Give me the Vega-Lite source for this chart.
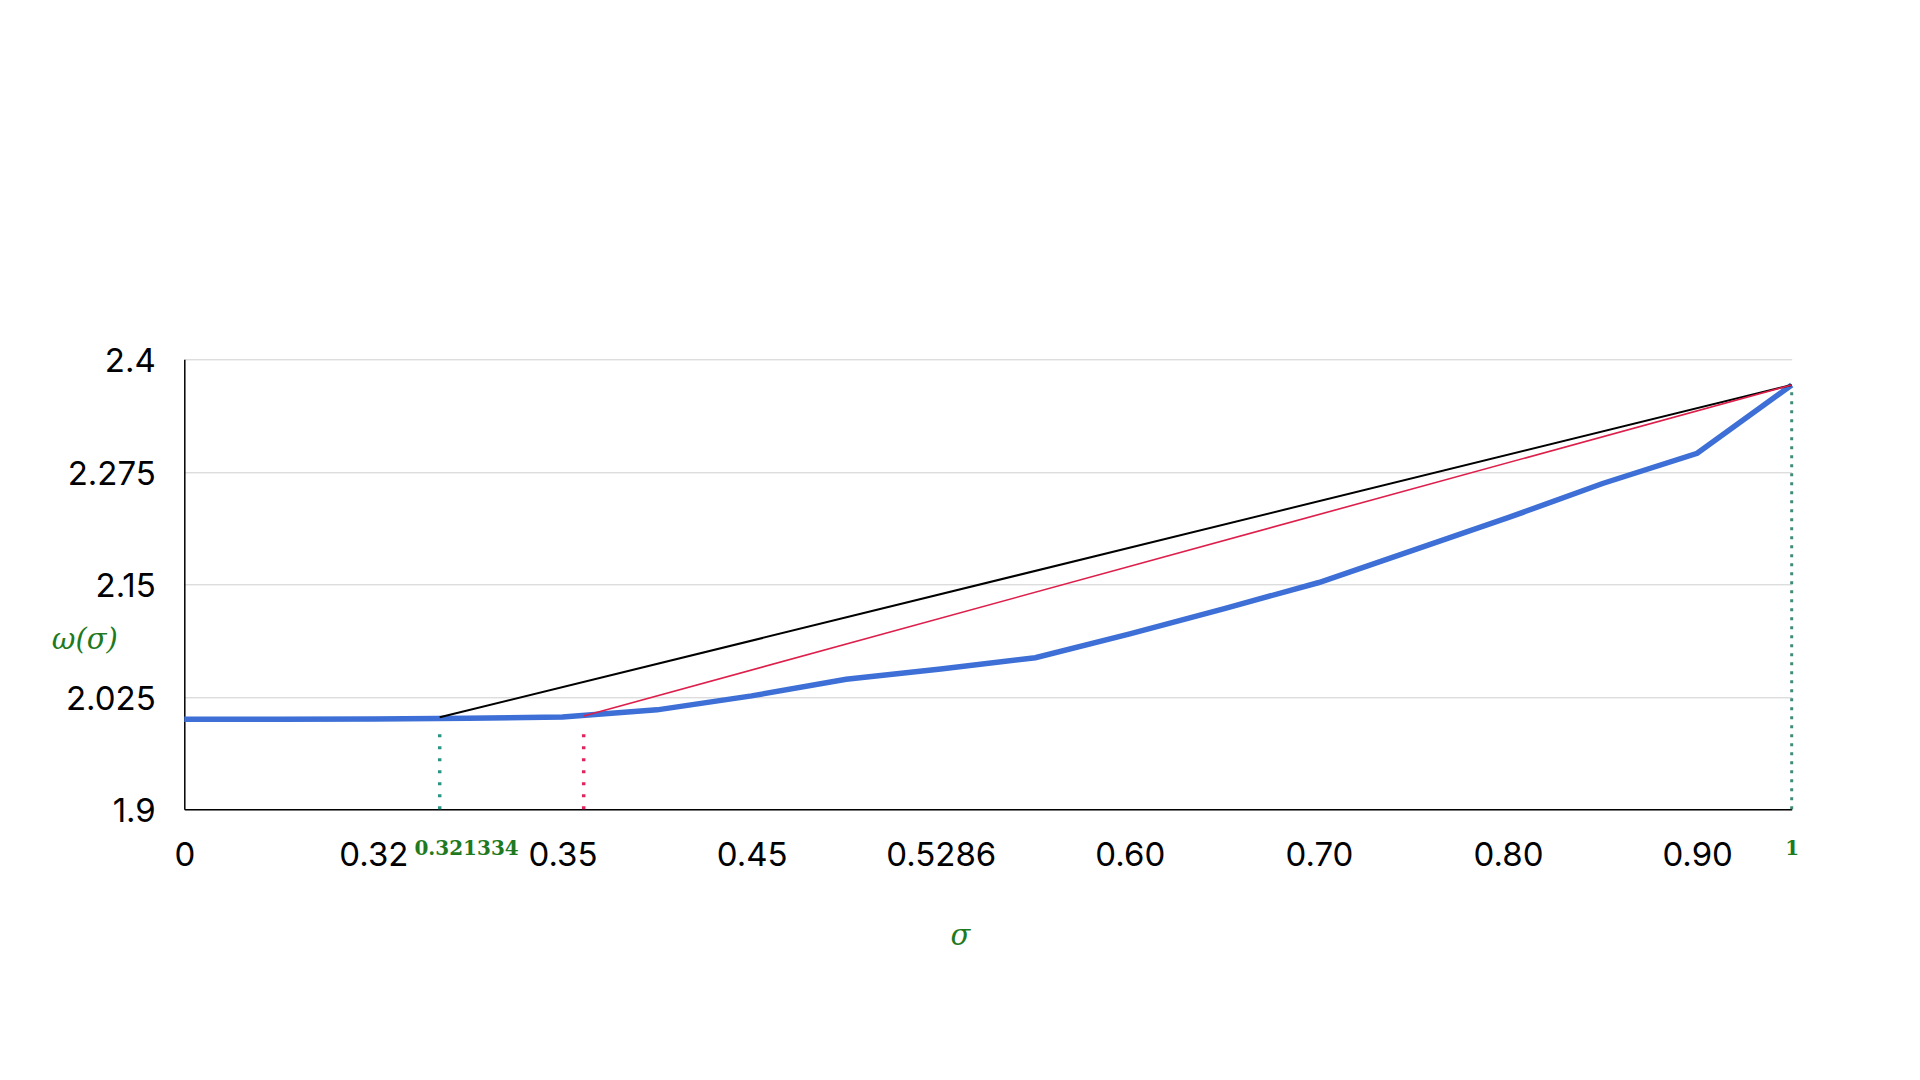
{
  "$schema": "https://vega.github.io/schema/vega-lite/v6.json",
  "width": 1607.4,
  "height": 450,
  "autosize": "none",
  "padding": {"left": 184.3, "top": 359.3, "right": 128.3, "bottom": 270.7},
  "background": "white",
  "config": {"view": {"stroke": null}},
  "datasets": {
    "omega": [
      {"pos": 0, "value": 2.0},
      {"pos": 0.5, "value": 2.0},
      {"pos": 1, "value": 2.0003},
      {"pos": 1.5, "value": 2.0012},
      {"pos": 2, "value": 2.0025},
      {"pos": 2.5, "value": 2.0105},
      {"pos": 3, "value": 2.026},
      {"pos": 3.5, "value": 2.0444},
      {"pos": 4, "value": 2.056},
      {"pos": 4.5, "value": 2.0684},
      {"pos": 5, "value": 2.095},
      {"pos": 5.5, "value": 2.123},
      {"pos": 6, "value": 2.152},
      {"pos": 6.5, "value": 2.188},
      {"pos": 7, "value": 2.224},
      {"pos": 7.5, "value": 2.262},
      {"pos": 8, "value": 2.2956},
      {"pos": 8.5, "value": 2.3715}
    ],
    "black": [
      {"pos": 1.3506, "value": 2.0022},
      {"pos": 8.5, "value": 2.3715}
    ],
    "red": [
      {"pos": 2.112, "value": 2.0037},
      {"pos": 8.5, "value": 2.3715}
    ],
    "markersLeft": [
      {"pos": 1.3506, "value": 1.9, "top": 1.99, "kind": "green"},
      {"pos": 2.112, "value": 1.9, "top": 1.99, "kind": "red"}
    ],
    "markersRight": [
      {"pos": 8.5, "value": 1.9, "top": 2.368, "kind": "green"}
    ],
    "greenLabels": [
      {"pos": 1.49, "value": 1.9, "label": "0.321334"},
      {"pos": 8.5, "value": 1.9, "label": "1"}
    ]
  },
  "resolve": {"axis": {"x": "independent"}},
  "layer": [
    {
      "data": {"name": "omega"},
      "mark": {"type": "line", "color": "#3d6fd6", "strokeWidth": 5.5, "strokeJoin": "miter"},
      "encoding": {
        "x": {
          "field": "pos", "type": "quantitative",
          "scale": {"domain": [0, 8.5], "nice": false, "zero": false},
          "axis": {
            "orient": "bottom",
            "values": [0, 1, 2, 3, 4, 5, 6, 7, 8],
            "labelExpr": "['0','0.32','0.35','0.45','0.5286','0.60','0.70','0.80','0.90'][datum.value]",
            "labelFont": "Inter", "labelFontSize": 33, "labelColor": "#000000",
            "labelPadding": 30, "ticks": false, "grid": false,
            "domain": true, "domainColor": "#000000", "domainWidth": 1.5,
            "labelOverlap": false, "labelFlush": false,
            "title": "σ",
            "titleFont": "DejaVu Serif", "titleFontStyle": "italic", "titleFontWeight": "normal",
            "titleFontSize": 29, "titleColor": "#1f7a1f",
            "titleX": 775.7, "titleY": 125.7, "titleAlign": "center", "titleBaseline": "middle", "titleAnchor": null
          }
        },
        "y": {
          "field": "value", "type": "quantitative",
          "scale": {"domain": [1.9, 2.4], "nice": false, "zero": false},
          "axis": {
            "values": [1.9, 2.025, 2.15, 2.275, 2.4],
            "labelExpr": "format(datum.value, '.3~f')",
            "labelFont": "Inter", "labelFontSize": 33, "labelColor": "#000000",
            "labelPadding": 29, "labelOffset": 2.5, "ticks": false,
            "grid": true, "gridColor": "#cfcfcf", "gridWidth": 1,
            "domain": true, "domainColor": "#000000", "domainWidth": 1.5,
            "title": "ω(σ)",
            "titleAngle": 0,
            "titleFont": "DejaVu Serif", "titleFontStyle": "italic", "titleFontWeight": "normal",
            "titleFontSize": 29, "titleColor": "#1f7a1f",
            "titleX": -100, "titleY": 280, "titleAlign": "center", "titleBaseline": "middle", "titleAnchor": null
          }
        }
      }
    },
    {
      "data": {"name": "black"},
      "mark": {"type": "line", "color": "#000000", "strokeWidth": 2},
      "encoding": {
        "x": {"field": "pos", "type": "quantitative", "axis": null},
        "y": {"field": "value", "type": "quantitative"}
      }
    },
    {
      "data": {"name": "red"},
      "mark": {"type": "line", "color": "#dc1f4b", "strokeWidth": 1.6},
      "encoding": {
        "x": {"field": "pos", "type": "quantitative", "axis": null},
        "y": {"field": "value", "type": "quantitative"}
      }
    },
    {
      "data": {"name": "markersLeft"},
      "mark": {"type": "rule", "strokeWidth": 3.5, "strokeDash": [3, 9]},
      "encoding": {
        "x": {"field": "pos", "type": "quantitative", "axis": null},
        "y": {"field": "value", "type": "quantitative"},
        "y2": {"field": "top"},
        "color": {"field": "kind", "type": "nominal", "scale": {"domain": ["green", "red"], "range": ["#2a9582", "#e0245e"]}, "legend": null}
      }
    },
    {
      "data": {"name": "markersRight"},
      "mark": {"type": "rule", "strokeWidth": 3, "strokeDash": [3, 6], "color": "#3f8a78"},
      "encoding": {
        "x": {"field": "pos", "type": "quantitative", "axis": null},
        "y": {"field": "value", "type": "quantitative"},
        "y2": {"field": "top"}
      }
    },
    {
      "data": {"name": "greenLabels"},
      "mark": {"type": "point", "opacity": 0},
      "encoding": {
        "x": {
          "field": "pos", "type": "quantitative",
          "axis": {
            "orient": "bottom",
            "values": [1.49, 8.5],
            "labelExpr": "datum.value < 5 ? '0.321334' : '1'",
            "labelFont": "DejaVu Serif", "labelFontWeight": "bold", "labelFontSize": 20,
            "labelColor": "#1f7a1f", "labelPadding": 29,
            "ticks": false, "grid": false, "domain": false,
            "labelOverlap": false, "labelFlush": false,
            "title": null
          }
        },
        "y": {"field": "value", "type": "quantitative"}
      }
    }
  ]
}
